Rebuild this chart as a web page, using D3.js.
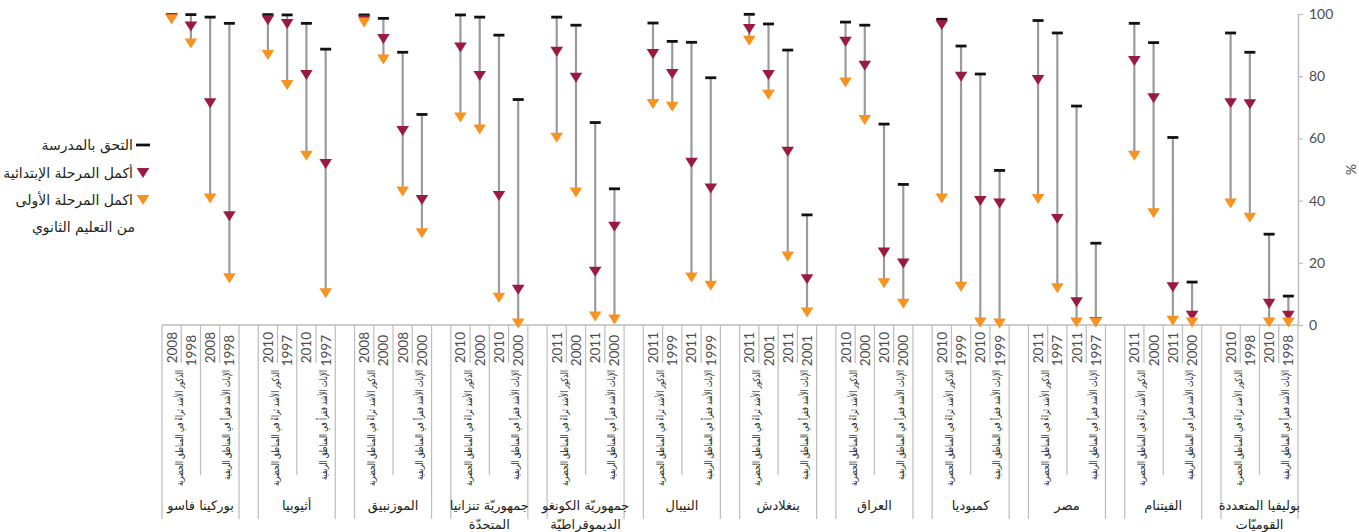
<!DOCTYPE html>
<html lang="ar">
<head>
<meta charset="utf-8">
<script src="https://cdn.jsdelivr.net/npm/d3@7"></script>
<style>
  html, body { margin: 0; padding: 0; background: #fff; }
  svg { display: block; }
  .ar { font-family: "DejaVu Sans", sans-serif; fill: #231f20; }
  .num { font-family: "Lato", "Open Sans", sans-serif; fill: #4d4d4d; }
</style>
</head>
<body>
<svg id="chart" width="1359" height="532"></svg>
<script>
// Countries, left to right
const countries = [
  ["بوركينا فاسو"],
  ["أثيوبيا"],
  ["الموزنبيق"],
  ["جمهوريّة تنزانيا", "المتحدّة"],
  ["جمهوريّة الكونغو", "الديموقراطيّة"],
  ["النيبال"],
  ["بنغلادش"],
  ["العراق"],
  ["كمبوديا"],
  ["مصر"],
  ["الفيتنام"],
  ["بوليفيا المتعددة", "القوميّات"]
];

// Survey years: [recent, earlier], used for both population groups
const years = [
  [2008, 1998], [2010, 1997], [2008, 2000], [2010, 2000],
  [2011, 2000], [2011, 1999], [2011, 2001], [2010, 2000],
  [2010, 1999], [2011, 1997], [2011, 2000], [2010, 1998]
];

// Population groups
const groups = [
  "الذكور الأشد ثراءً في المناطق الحضرية",
  "الإناث الأشد فقراً في المناطق الريفية"
];

// Values per country: [urban recent, urban earlier, rural recent, rural earlier] (%)
const enrolled = [
  [99.8, 99.8, 99.0, 97.0],
  [99.8, 99.7, 97.0, 88.7],
  [99.7, 98.6, 87.7, 67.7],
  [99.7, 99.0, 93.2, 72.5],
  [99.0, 96.4, 65.1, 43.8],
  [97.1, 91.2, 90.9, 79.5],
  [99.9, 96.8, 88.4, 35.4],
  [97.4, 96.4, 64.6, 45.2],
  [98.3, 89.7, 80.7, 49.7],
  [97.9, 93.9, 70.4, 26.3],
  [97.0, 90.8, 60.3, 13.8],
  [93.9, 87.7, 29.2, 9.3]
];

const completedPrimary = [
  [98.5, 96.0, 71.3, 35.0],
  [98.0, 96.8, 80.4, 51.8],
  [98.0, 92.0, 62.4, 40.2],
  [89.2, 80.1, 41.5, 11.3],
  [87.9, 79.5, 17.1, 31.6],
  [87.1, 80.7, 52.2, 43.9],
  [95.2, 80.4, 55.7, 14.7],
  [91.1, 83.4, 23.3, 19.8],
  [96.5, 79.8, 39.9, 39.1],
  [78.8, 34.1, 7.3, 1.0],
  [84.9, 72.9, 12.1, 3.0],
  [71.3, 71.0, 6.8, 3.0]
];

const completedLowerSecondary = [
  [98.3, 90.5, 40.7, 15.0],
  [86.8, 77.2, 54.4, 10.2],
  [97.3, 85.4, 42.9, 29.5],
  [66.7, 62.9, 8.8, 0.5],
  [60.2, 42.6, 2.7, 1.8],
  [71.1, 70.2, 15.3, 12.6],
  [91.4, 74.0, 22.0, 4.0],
  [78.0, 65.9, 13.4, 6.8],
  [40.7, 12.3, 0.8, 0.5],
  [40.5, 11.8, 0.8, 0.8],
  [54.4, 35.9, 1.4, 0.8],
  [39.1, 34.5, 0.8, 0.8]
];

const yTicks = [0, 20, 40, 60, 80, 100];

const legendItems = [
  { key: "enrol", lines: ["التحق بالمدرسة"] },
  { key: "primary", lines: ["أكمل المرحلة الإبتدائية"] },
  { key: "lower", lines: ["اكمل المرحلة الأولى", "من التعليم الثانوي"] }
];

const colors = { enrol: "#111111", primary: "#9b1b40", lower: "#f7931e", stem: "#9b9b9b", axis: "#bdbdbd" };

// ---- layout ----
const svg = d3.select("#chart");
const plot = { left: 162, right: 1298, top: 14, bottom: 325 };

// One slot per column, with an empty slot between countries
const slots = [];
countries.forEach((c, ci) => {
  for (let k = 0; k < 4; k++) slots.push(`${ci}-${k}`);
  if (ci < countries.length - 1) slots.push(`gap-${ci}`);
});

const x = d3.scaleBand().domain(slots).range([plot.left, plot.right]).padding(0);
const y = d3.scaleLinear().domain([0, 100]).range([plot.bottom, plot.top]);
const bw = x.bandwidth();

// Flatten into one record per column
const cols = [];
countries.forEach((c, ci) => {
  for (let k = 0; k < 4; k++) {
    cols.push({
      id: `${ci}-${k}`,
      ci, k,
      year: years[ci][k % 2],
      enrol: enrolled[ci][k],
      primary: completedPrimary[ci][k],
      lower: completedLowerSecondary[ci][k]
    });
  }
});

const tri = "M-6.3,-5 L6.3,-5 L0,5 Z";

// ---- y axis (right) ----
const yAxis = d3.axisRight(y).tickValues(yTicks).tickSize(5).tickSizeOuter(0).tickPadding(6);
const ga = svg.append("g").attr("transform", `translate(${plot.right},0)`).call(yAxis);
ga.select(".domain").attr("stroke", colors.axis).attr("stroke-width", 1.5);
ga.selectAll(".tick line").attr("stroke", colors.axis).attr("stroke-width", 1.2);
ga.selectAll(".tick text").attr("class", "num").attr("font-size", 14).style("font-family", "Lato, 'Open Sans', sans-serif").attr("fill", "#4d4d4d");

svg.append("text")
  .attr("class", "num")
  .attr("transform", `translate(1346,${y(50)}) rotate(90)`)
  .attr("text-anchor", "middle")
  .attr("font-size", 14)
  .text("%");

// ---- category axis ----
svg.append("line")
  .attr("x1", plot.left).attr("x2", plot.right)
  .attr("y1", plot.bottom).attr("y2", plot.bottom)
  .attr("stroke", colors.axis).attr("stroke-width", 1.5);

const dividers = [];
countries.forEach((c, ci) => {
  dividers.push({ x: x(`${ci}-0`), len: 194 });
  dividers.push({ x: x(`${ci}-1`), len: 38 });
  dividers.push({ x: x(`${ci}-2`), len: 150 });
  dividers.push({ x: x(`${ci}-3`), len: 38 });
  dividers.push({ x: x(`${ci}-3`) + bw, len: 194 });
});
svg.append("g").selectAll("line").data(dividers).join("line")
  .attr("x1", d => d.x).attr("x2", d => d.x)
  .attr("y1", plot.bottom).attr("y2", d => plot.bottom + d.len)
  .attr("stroke", colors.axis).attr("stroke-width", 1.2);

// year labels
svg.append("g").selectAll("text").data(cols).join("text")
  .attr("class", "num")
  .attr("transform", d => `translate(${x(d.id) + bw / 2},${332 + (d.k % 2) * 3}) rotate(-90)`)
  .attr("text-anchor", "end")
  .attr("dominant-baseline", "central")
  .attr("font-size", 13.5)
  .attr("fill", "#3a3a3a")
  .text(d => d.year);

// group labels
const groupLabels = [];
countries.forEach((c, ci) => {
  groups.forEach((g, gi) => {
    const x0 = x(`${ci}-${gi * 2}`);
    groupLabels.push({ text: g, cx: x0 + bw + (gi === 0 ? -2 : 7), len: gi === 0 ? 116 : 110 });
  });
});
svg.append("g").selectAll("text").data(groupLabels).join("text")
  .attr("class", "ar")
  .attr("transform", d => `translate(${d.cx},370) rotate(-90)`)
  .attr("text-anchor", "end")
  .attr("dominant-baseline", "central")
  .attr("font-size", 10)
  .attr("textLength", d => d.len)
  .attr("lengthAdjust", "spacingAndGlyphs")
  .text(d => d.text);

// country names
const cg = svg.append("g").selectAll("g").data(countries).join("g")
  .attr("transform", (d, ci) => `translate(${x(`${ci}-0`) + 2 * bw},0)`);
cg.selectAll("text").data(d => d).join("text")
  .attr("class", "ar")
  .attr("x", 0)
  .attr("y", (d, i) => 510 + i * 19)
  .attr("text-anchor", "middle")
  .attr("font-size", 13)
  .text(d => d);

// ---- marks ----
const mk = svg.append("g");
mk.selectAll("line.stem").data(cols).join("line")
  .attr("class", "stem")
  .attr("x1", d => x(d.id) + bw / 2).attr("x2", d => x(d.id) + bw / 2)
  .attr("y1", d => y(d.enrol)).attr("y2", d => y(d.lower))
  .attr("stroke", colors.stem).attr("stroke-width", 2.2);

mk.selectAll("line.enrol").data(cols).join("line")
  .attr("class", "enrol")
  .attr("x1", d => x(d.id) + bw / 2 - 5.5).attr("x2", d => x(d.id) + bw / 2 + 5.5)
  .attr("y1", d => y(d.enrol)).attr("y2", d => y(d.enrol))
  .attr("stroke", colors.enrol).attr("stroke-width", 2.8);

mk.selectAll("path.primary").data(cols).join("path")
  .attr("class", "primary")
  .attr("d", tri)
  .attr("transform", d => `translate(${x(d.id) + bw / 2},${y(d.primary)})`)
  .attr("fill", colors.primary);

mk.selectAll("path.lower").data(cols).join("path")
  .attr("class", "lower")
  .attr("d", tri)
  .attr("transform", d => `translate(${x(d.id) + bw / 2},${y(d.lower)})`)
  .attr("fill", colors.lower);

// ---- legend ----
const lg = svg.append("g");
const legendY = [145, 173, 200];
legendItems.forEach((it, i) => {
  const g = lg.append("g").attr("transform", `translate(143,${legendY[i]})`);
  if (it.key === "enrol") {
    g.append("line").attr("x1", -7).attr("x2", 7).attr("stroke", colors.enrol).attr("stroke-width", 2.8);
  } else {
    g.append("path").attr("d", tri).attr("fill", colors[it.key]);
  }
  it.lines.forEach((t, j) => {
    g.append("text")
      .attr("class", "ar")
      .attr("x", -10 + (j > 0 ? 2 : 0))
      .attr("y", j * 27)
      .attr("text-anchor", "end")
      .attr("dominant-baseline", "central")
      .attr("font-size", 14)
      .text(t);
  });
});
</script>
</body>
</html>
